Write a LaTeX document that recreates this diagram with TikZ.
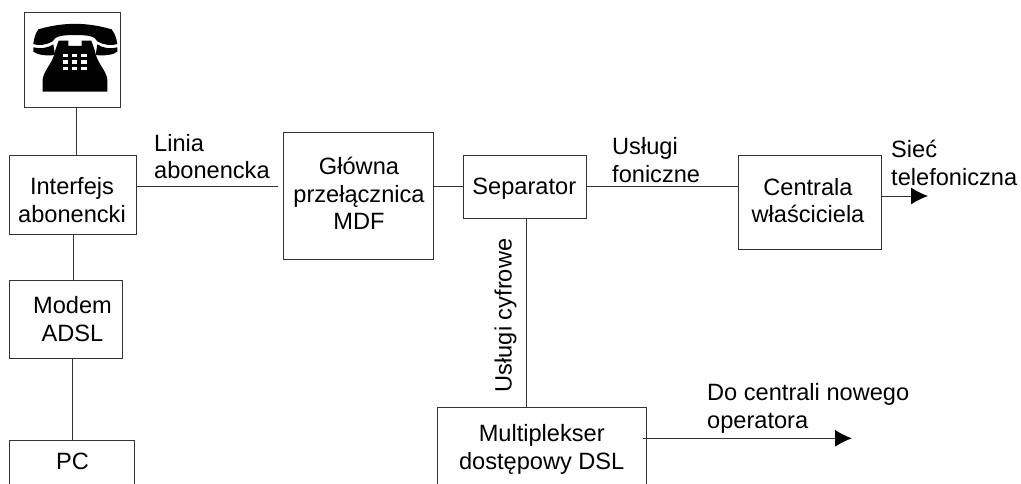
\documentclass[tikz,border=0pt]{standalone}
\usepackage{fontspec}
\setmainfont{Liberation Sans}
\usetikzlibrary{positioning}
\usetikzlibrary{arrows.meta}
\tikzset{
  blok/.style={draw=black!80, line width=1pt, inner sep=0pt},
  tekst/.style={align=center, inner sep=0pt, font=\fontsize{23.6}{27.5}\selectfont},
  opis/.style={align=left, inner sep=0pt, anchor=west, font=\fontsize{23.6}{27.5}\selectfont},
  linia/.style={draw=black!80, line width=1pt},
  strzalka/.style={linia, -{Latex[length=17pt,width=17pt,black]}}
}
\begin{document}
\begin{tikzpicture}[x=1pt,y=-1pt]
  % rozmiar obrazka, dolne bloki sa uciete
  \useasboundingbox (0,0) rectangle (1021,483);
  \clip (0,0) rectangle (1021,483);

  % bloki: nazwa/srodek x/srodek y/szerokosc/wysokosc
  \foreach \name/\x/\y/\w/\h in {
    phone/72.7/59.5/95.5/95,
    interfejs/73/194.5/127/79,
    modem/66/319/113/78,
    pc/72/480/125/80,
    mdf/358/196/150/127,
    separator/524.5/186.8/123/63.5,
    centrala/809.7/202/143/94,
    mux/542/449/209.4/84}
    \node[blok, minimum width=\w pt, minimum height=\h pt] (\name) at (\x,\y) {};

  % teksty blokow nie sa na srodku
  \foreach \name/\x/\y/\txt in {
    interfejs/72/200/{Interfejs\\abonencki},
    modem/72.5/319/{Modem\\ADSL},
    pc/72.5/461.7/{PC},
    mdf/359/193.7/{Główna\\przełącznica\\MDF},
    separator/524.3/188.5/{Separator},
    centrala/808/200.5/{Centrala\\właściciela},
    mux/541.7/449.5/{Multiplekser\\dostępowy DSL}}
    \node[tekst] (\name txt) at (\x,\y) {\txt};

  % telefon
  \begin{scope}[x=0.3333pt, y=-0.3333pt]
    \fill (100,132) .. controls (102,115) and (106,100) .. (115,88)
      .. controls (190,66) and (260,66) .. (335,88)
      .. controls (344,100) and (350,115) .. (352,132)
      .. controls (335,138) and (310,135) .. (292,124)
      .. controls (285,110) and (270,105) .. (225,105)
      .. controls (180,105) and (165,110) .. (158,124)
      .. controls (140,135) and (115,138) .. (100,132) -- cycle;
    \fill (100,142) .. controls (120,148) and (145,144) .. (160,133)
      -- (165,165) .. controls (140,168) and (112,165) .. (100,155) -- cycle;
    \fill (352,142) .. controls (332,148) and (307,144) .. (292,133)
      -- (287,165) .. controls (312,168) and (340,165) .. (352,155) -- cycle;
    \fill (128,275) -- (128,238) .. controls (132,208) and (160,190) .. (166,150)
      -- (176,122) -- (205,122) -- (205,138) -- (245,138) -- (245,122) -- (274,122)
      -- (284,150) .. controls (290,190) and (318,208) .. (322,238) -- (322,275) -- cycle;
    \foreach \kx in {196,224,252}
      \foreach \ky in {166,186,206}
        \fill[white] (\kx-8,\ky-5) rectangle (\kx+8,\ky+5);
  \end{scope}

  % wolne konce linii
  \coordinate (teldol) at (76.5,107);
  \coordinate (telkon) at (76.5,155);
  \coordinate (lewy1) at (136.5,186.7);
  \coordinate (mdfl) at (278,186.7);
  \coordinate (mdfp) at (433,186);
  \coordinate (sepl) at (463,186);
  \coordinate (sepp) at (586,186.7);
  \coordinate (cenl) at (738,186.7);
  \coordinate (cenp) at (881,196);
  \coordinate (cenk) at (928,196);
  \coordinate (muxp) at (643,438.3);
  \coordinate (muxk) at (852,438.3);
  \coordinate (sepd) at (526,218.5);
  \coordinate (mgora) at (526,407);

  % polaczenia
  \draw[linia] (teldol) -- (telkon);
  \draw[linia] (interfejs.south) -- (interfejs.south |- modem.north);
  \draw[linia] (pc.north |- modem.south) -- (pc.north);
  \draw[linia] (lewy1) -- (mdfl);
  \draw[linia] (mdfp) -- (sepl);
  \draw[linia] (sepp) -- (cenl);
  \draw[linia] (sepd) -- (mgora);
  \draw[strzalka] (cenp) -- (cenk);
  \draw[strzalka] (muxp) -- (muxk);

  % opisy
  \node[opis] (liniaopis) at (154,156.5) {Linia\\abonencka};
  \node[opis] (uslf) at (612,160) {Usługi\\foniczne};
  \node[opis] (siec) at (891,163) {Sieć\\telefoniczna};
  \node[opis] (docentrali) at (707,408.5) {Do centrali nowego\\operatora};
  \node[tekst, rotate=90] (uslc) at (505.5,315.5) {Usługi cyfrowe};
\end{tikzpicture}
\end{document}
